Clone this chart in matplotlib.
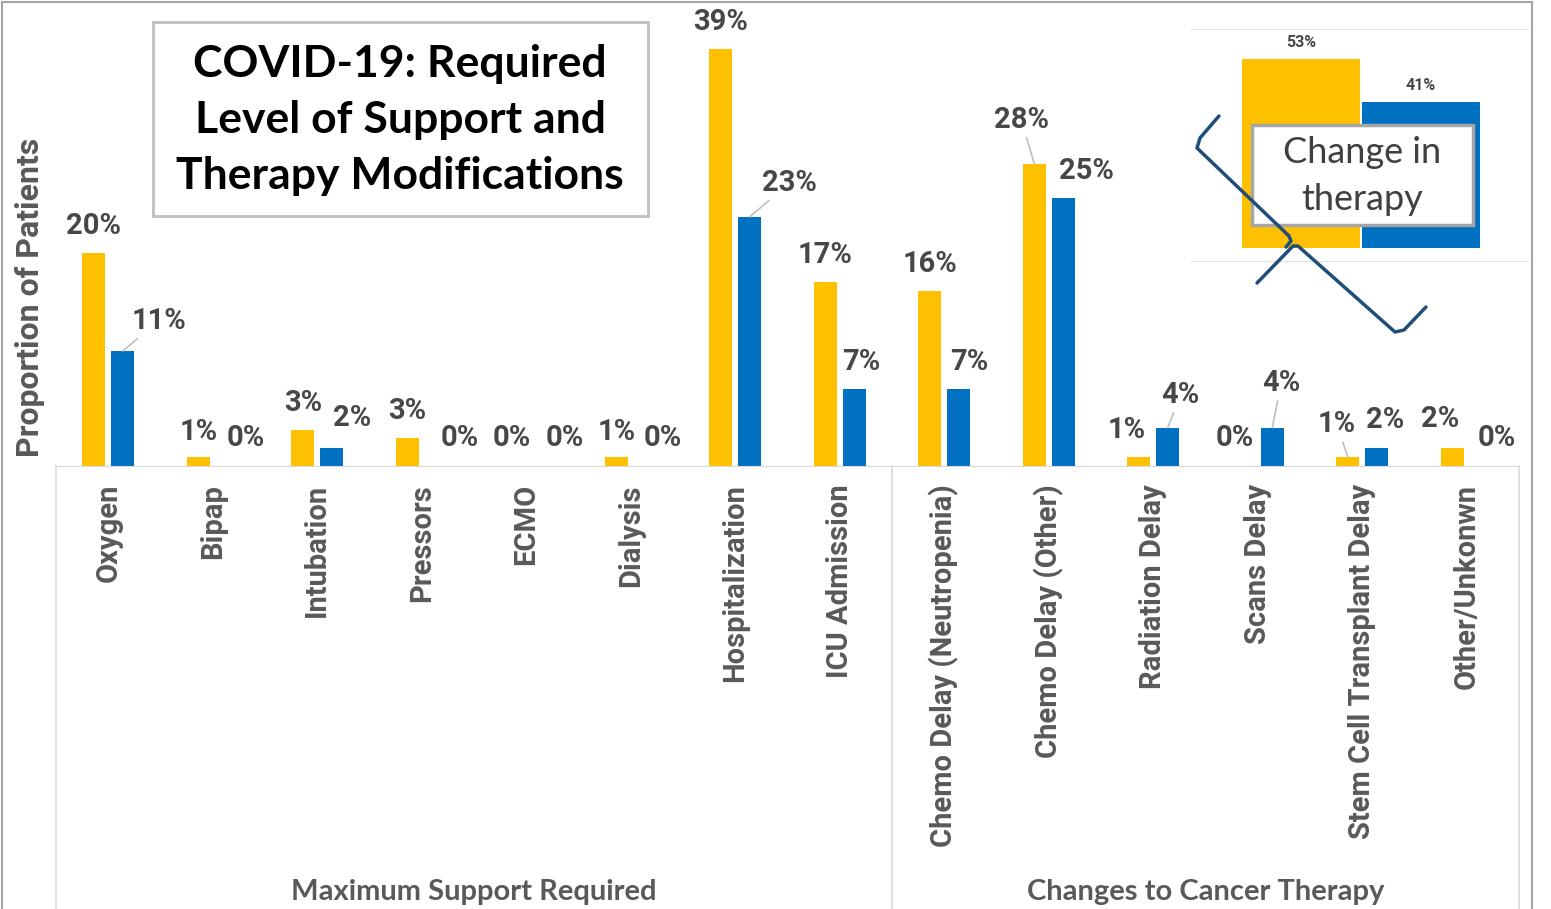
import numpy as np
import matplotlib.pyplot as plt
from matplotlib.patches import Rectangle
from matplotlib.lines import Line2D

categories = ['Oxygen', 'Bipap', 'Intubation', 'Pressors', 'ECMO', 'Dialysis',
              'Hospitalization', 'ICU Admission', 'Chemo Delay (Neutropenia)',
              'Chemo Delay (Other)', 'Radiation Delay', 'Scans Delay',
              'Stem Cell Transplant Delay', 'Other/Unkonwn']
groups = ['Maximum Support Required', 'Changes to Cancer Therapy']
group_sizes = [8, 6]
yellow_vals = [20.0, 0.85, 3.4, 2.6, 0.0, 0.85, 39.2, 17.3, 16.4, 28.4, 0.85, 0.0, 0.85, 1.7]
blue_vals = [10.8, 0.0, 1.7, 0.0, 0.0, 0.0, 23.4, 7.2, 7.2, 25.2, 3.6, 3.6, 1.7, 0.0]
inset_labels = ['Yellow', 'Blue']
inset_vals = [53, 41]
title = 'COVID-19: Required\nLevel of Support and\nTherapy Modifications'
ylabel = 'Proportion of Patients'
inset_title = 'Change in\ntherapy'

YEL = '#FFC000'
BLU = '#0070C0'
GRAY = '#595959'
LAB = '#474747'
SANS = 'Roboto'

W, H = 1551, 909


def fx(px):
    return px / W


def fy(py):
    return 1 - py / H


fig = plt.figure(figsize=(W / 100, H / 100), dpi=100)

# outer frame
fig.patches.append(Rectangle((fx(2), -0.01), fx(1532) - fx(2), fy(2) + 0.01,
                             transform=fig.transFigure, fill=False,
                             ec='#A6A6A6', lw=1.5))

ax = fig.add_axes([fx(56), fy(466), fx(1519) - fx(56), (466 - 20) / H])
x = np.arange(len(categories))
off, bw = 0.139, 0.22
ax.bar(x - off, yellow_vals, width=bw, color=YEL, zorder=2)
ax.bar(x + off, blue_vals, width=bw, color=BLU, zorder=2)
ax.set_xlim(-0.5, len(categories) - 0.5)
ax.set_ylim(0, (466 - 20) / 10.65)
for s in ['left', 'right', 'top']:
    ax.spines[s].set_visible(False)
ax.spines['bottom'].set_color('#D9D9D9')
ax.set_yticks([])
ax.set_xticks(x)
ax.set_xticklabels(categories, rotation=90, fontsize=21, color=GRAY,
                   family=SANS, fontweight='bold')
ax.tick_params(axis='x', length=0, pad=13)

# group separators and group labels
tr = ax.get_xaxis_transform()
edges = np.concatenate([[0], np.cumsum(group_sizes)]) - 0.5
for e in edges:
    ax.add_line(Line2D([e, e], [0, -1.05], transform=tr, color='#D9D9D9',
                       lw=1.2, clip_on=False))
for g, a, b in zip(groups, edges[:-1], edges[1:]):
    ax.text((a + b) / 2, -0.955, g, transform=tr, ha='center', va='center',
            fontsize=21, color=GRAY, family='Lato', fontweight='bold')

# data labels: (dx, dy) in pixels from bar top, leader line flag
y_off = {0: (0, 27), 1: (0, 25), 2: (0, 27), 3: (0, 27), 4: (0, 28), 5: (0, 25),
         6: (0, 27), 7: (0, 27), 8: (0, 27), 9: (-13, 44), 10: (-12, 27),
         11: (-8, 28), 12: (-11, 33), 13: (-12, 29)}
b_off = {0: (36, 30), 1: (18, 28), 2: (20, 30), 3: (23, 28), 4: (24, 28),
         5: (17, 28), 6: (40, 34), 7: (7, 27), 8: (10, 27), 9: (23, 27),
         10: (13, 33), 11: (9, 45), 12: (8, 28), 13: (15, 28)}
y_lead = [9, 12]
b_lead = [0, 6, 10, 11]


def label(xc, v, d, lead):
    ap = None
    if lead:
        ap = dict(arrowstyle='-', color='#BFBFBF', lw=1.2, shrinkA=1, shrinkB=0)
    ax.annotate(f'{v:.0f}%', xy=(xc, v), xytext=d, textcoords='offset pixels',
                ha='center', va='center', fontsize=21, fontweight='bold',
                family=SANS, color=LAB, arrowprops=ap,
                annotation_clip=False)


for i in range(len(categories)):
    label(x[i] - off, yellow_vals[i], y_off[i], i in y_lead)
    label(x[i] + off, blue_vals[i], b_off[i], i in b_lead)

fig.text(fx(30), fy(297), ylabel, rotation=90, ha='center', va='center',
         fontsize=23, fontweight='bold', color=GRAY, family=SANS)

# title box
fig.patches.append(Rectangle((fx(153), fy(216)), fx(648) - fx(153), (216 - 22) / H,
                             transform=fig.transFigure, fc='white',
                             ec='#BFBFBF', lw=2, zorder=5))
fig.text(fx(400), fy(120), title, ha='center', va='center', fontsize=32,
         fontweight='bold', family='Lato', color='black', linespacing=1.5,
         zorder=6)

# inset chart
iax = fig.add_axes([fx(1191), fy(261), fx(1528) - fx(1191), (261 - 29) / H])
ix = np.arange(len(inset_vals))
iax.bar(ix, inset_vals, width=0.983, color=[YEL, BLU])
iax.set_xlim((1191 - 1301) / 120, (1528 - 1301) / 120)
iax.set_ylim(-13 / 3.56, (248 - 29) / 3.56)
iax.set_xticks([])
iax.set_yticks([])
for s in ['left', 'right']:
    iax.spines[s].set_visible(False)
for s in ['top', 'bottom']:
    iax.spines[s].set_color('#E0E0E0')
for xi, v in zip(ix, inset_vals):
    iax.annotate(f'{v}%', xy=(xi, v), xytext=(0, 17), textcoords='offset pixels',
                 ha='center', va='center', fontsize=11.5, fontweight='bold',
                 family=SANS, color=LAB)

fig.patches.append(Rectangle((fx(1252), fy(225)), fx(1473) - fx(1252), (225 - 125) / H,
                             transform=fig.transFigure, fc='white',
                             ec='#A6A6A6', lw=2.5, zorder=5))
fig.text(fx(1362), fy(176), inset_title, ha='center', va='center', fontsize=26,
         family='Lato', color='#404040', linespacing=1.5, zorder=6)

# hand-drawn brace
brace = [[(1219, 116), (1200, 138), (1197, 148), (1289, 236), (1291, 241), (1286, 247)],
         [(1257, 283), (1293, 246), (1298, 246), (1395, 332), (1404, 330), (1426, 307)]]
for seg in brace:
    xs = [fx(p[0]) for p in seg]
    ys = [fy(p[1]) for p in seg]
    fig.lines.append(Line2D(xs, ys, transform=fig.transFigure, color='#1F4E79',
                            lw=2.5, zorder=7, solid_capstyle='round'))

fig.savefig('out.png', dpi=100)
